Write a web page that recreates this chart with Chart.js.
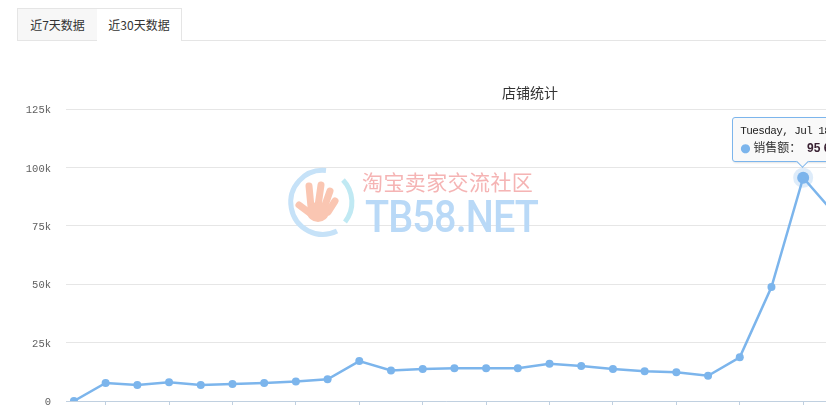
<!DOCTYPE html>
<html><head><meta charset="utf-8">
<script src="https://cdn.jsdelivr.net/npm/chart.js@4.4.0/dist/chart.umd.min.js"></script>
<style>
html,body{margin:0;padding:0;background:#fff;overflow:hidden;}
#wrap{position:relative;width:826px;height:405px;overflow:hidden;font-family:"Noto Sans CJK SC",sans-serif;}
#c{position:absolute;left:0;top:0;}
.tab{position:absolute;top:8px;height:33px;box-sizing:border-box;font-size:12px;color:#333;line-height:31px;text-align:center;}
#t1{left:17px;width:81px;background:#f7f7f7;border:1px solid #e5e5e5;}
#t2{left:97px;width:85px;background:#fff;border:1px solid #e5e5e5;border-left:none;border-bottom:none;}
#tabline{position:absolute;left:182px;right:0;top:40px;height:1px;background:#e5e5e5;}
#title{position:absolute;left:430px;width:200px;text-align:center;top:85px;font-size:14px;line-height:14px;color:#333;}
#wm1{position:absolute;left:362px;top:171px;font-size:21px;line-height:21px;color:#f5b4b4;letter-spacing:0.4px;white-space:nowrap;pointer-events:none;}
#wm2{position:absolute;left:365px;top:194px;font-family:Roboto,sans-serif;font-weight:500;font-size:45px;line-height:45px;color:#b9d9f7;letter-spacing:-1px;white-space:nowrap;pointer-events:none;transform:scaleX(0.88);transform-origin:0 0;}
#logo{position:absolute;left:0;top:0;pointer-events:none;}
#tip{position:absolute;display:none;background:#f9f9f9;border:1px solid #7cb5ec;border-radius:3px;padding:6px 8px 4px 7px;white-space:nowrap;box-shadow:1px 1px 2px rgba(0,0,0,0.12);}
#tip .h{font-family:"Liberation Mono",monospace;font-size:11px;letter-spacing:-0.6px;line-height:14px;color:#222;}
#tip .b{font-size:12px;line-height:18px;color:#333;}
#tip .dot{color:#7cb5ec;font-family:"DejaVu Sans",sans-serif;font-size:12px;}
#tip .v{font-weight:bold;color:#3a2233;font-family:"Liberation Sans",sans-serif;margin-left:3px;}
#tip .car{position:absolute;width:9px;height:9px;box-sizing:border-box;background:#f9f9f9;border-right:1px solid #7cb5ec;border-bottom:1px solid #7cb5ec;transform:rotate(45deg);bottom:-5px;}
</style></head>
<body>
<div id="wrap">
  <canvas id="c" width="826" height="405"></canvas>
  <svg id="logo" width="826" height="405">
    <path d="M 326 170.5 A 32 32 0 1 0 337 231" stroke="#c6e2f8" stroke-width="5" fill="none"/>
    <path d="M 343 180 A 32 32 0 0 1 345 222" stroke="#c0e9f3" stroke-width="5" fill="none"/>
    <g stroke="#fac6b2" stroke-width="7" stroke-linecap="round" fill="none">
      <line x1="311" y1="207" x2="309" y2="186"/>
      <line x1="318" y1="206" x2="321" y2="185"/>
      <line x1="324" y1="208" x2="330" y2="191"/>
      <line x1="328" y1="212" x2="335" y2="201"/>
      <line x1="311" y1="214" x2="299" y2="205"/>
    </g>
    <ellipse cx="318" cy="212" rx="11" ry="10" fill="#fac6b2"/>
  </svg>
  <div id="wm1">淘宝卖家交流社区</div>
  <div id="wm2">TB58.NET</div>
  <div class="tab" id="t1">近7天数据</div>
  <div class="tab" id="t2">近30天数据</div>
  <div id="tabline"></div>
  <div id="title">店铺统计</div>
  <div id="tip"><div class="h"></div><div class="b"><span class="dot">●</span> <span class="n"></span>： <span class="v"></span></div><div class="car"></div></div>
</div>
<script>
// ---- data ----
const dates = ['2017-06-25','2017-06-26','2017-06-27','2017-06-28','2017-06-29','2017-06-30','2017-07-01',
  '2017-07-02','2017-07-03','2017-07-04','2017-07-05','2017-07-06','2017-07-07','2017-07-08','2017-07-09',
  '2017-07-10','2017-07-11','2017-07-12','2017-07-13','2017-07-14','2017-07-15','2017-07-16','2017-07-17',
  '2017-07-18','2017-07-19'];
const seriesName = '销售额';
const sales = [0, 7700, 6900, 8000, 6900, 7300, 7700, 8300, 9300, 17100, 13100, 13700, 14000, 14000, 14000,
  15900, 15000, 13700, 12700, 12300, 10800, 18700, 48800, 95600, 80000];
const yTickValues = [0, 25000, 50000, 75000, 100000, 125000];
const yTickLabels = ['0', '25k', '50k', '75k', '100k', '125k'];
const xTickIndices = [1, 3, 5, 7, 9, 11, 13, 15, 17, 19, 21, 23];
const highlightIndex = 23;

function fmtDate(s){
  const p = s.split('-').map(Number);
  return new Date(p[0], p[1]-1, p[2]).toLocaleDateString('en-US',{weekday:'long',month:'short',day:'numeric',year:'numeric'});
}
function fmtNum(v){ return String(Math.round(v)).replace(/\B(?=(\d{3})+(?!\d))/g,' '); }

function externalTip(ctx){
  const {tooltip} = ctx;
  const el = document.getElementById('tip');
  if (!tooltip || tooltip.opacity === 0 || !tooltip.dataPoints || !tooltip.dataPoints.length){ el.style.display='none'; return; }
  const dp = tooltip.dataPoints[0];
  el.querySelector('.h').textContent = fmtDate(dates[dp.dataIndex]);
  el.querySelector('.n').textContent = dp.dataset.label;
  el.querySelector('.v').textContent = fmtNum(dp.parsed.y);
  el.style.display = 'block';
  const off = 71;
  el.querySelector('.car').style.left = (off - 6) + 'px';
  el.style.left = (tooltip.caretX - off) + 'px';
  el.style.top = (tooltip.caretY - 16 - el.offsetHeight) + 'px';
}

const chart = new Chart(document.getElementById('c'), {
  type: 'line',
  data: {
    datasets: [{
      label: seriesName,
      data: sales.map((v, i) => ({x: i, y: v})),
      borderColor: '#7cb5ec',
      backgroundColor: '#7cb5ec',
      borderWidth: 2.5,
      tension: 0,
      pointRadius: 4,
      pointBorderWidth: 0,
      pointBackgroundColor: '#7cb5ec',
      pointHoverRadius: 6,
      pointHoverBorderWidth: 8,
      pointHoverBorderColor: 'rgba(124,181,236,0.25)',
      pointHoverBackgroundColor: '#7cb5ec'
    }]
  },
  options: {
    responsive: false,
    devicePixelRatio: 1,
    animation: false,
    events: [],
    layout: {autoPadding: false, padding: {left: 0, right: 0, top: 109, bottom: 4}},
    plugins: {
      legend: {display: false},
      title: {display: false},
      tooltip: {enabled: false, external: externalTip, mode: 'nearest', intersect: false}
    },
    scales: {
      x: {
        type: 'linear',
        min: -0.25,
        max: 23.72,
        afterBuildTicks: s => { s.ticks = xTickIndices.map(v => ({value: v})); },
        afterFit: s => { s.height = 0; },
        ticks: {display: false},
        grid: {display: true, drawOnChartArea: false, drawTicks: true, tickLength: 10, tickColor: '#c0d0e0', tickWidth: 1},
        border: {display: true, color: '#c0d0e0', width: 1}
      },
      y: {
        min: 0,
        max: 125000,
        afterBuildTicks: s => { s.ticks = yTickValues.map(v => ({value: v})); },
        afterFit: s => { s.width = 66; s.paddingTop = 0; s.paddingBottom = 0; },
        ticks: {
          callback: (v, i) => yTickLabels[yTickValues.indexOf(v)],
          color: '#606060',
          font: {family: '"Liberation Mono", monospace', size: 10.5},
          padding: 15,
          labelOffset: 1.5
        },
        grid: {color: '#e6e6e6', drawTicks: false, lineWidth: 1},
        border: {display: false}
      }
    }
  }
});

const meta = chart.getDatasetMeta(0);
const pt = meta.data[highlightIndex];
chart.setActiveElements([{datasetIndex: 0, index: highlightIndex}]);
chart.tooltip.setActiveElements([{datasetIndex: 0, index: highlightIndex}], {x: pt.x, y: pt.y});
chart.update('none');
</script>
</body></html>
